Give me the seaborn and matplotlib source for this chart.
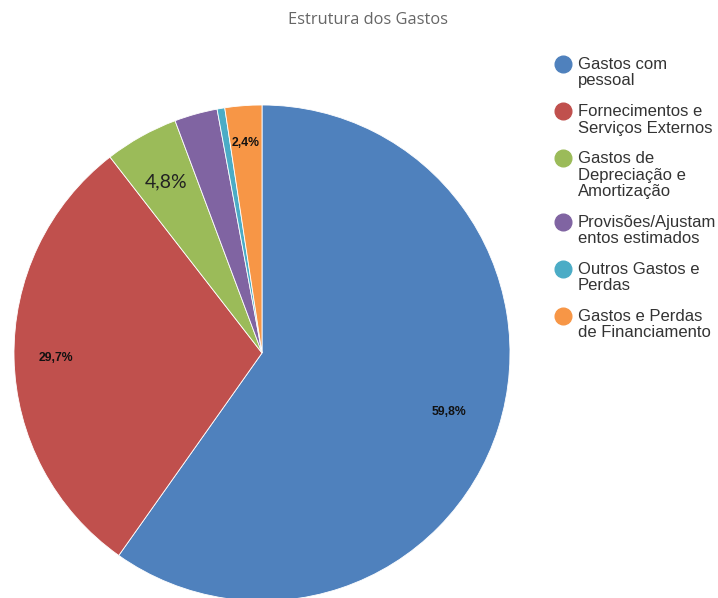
import numpy as np
import matplotlib
matplotlib.use("Agg")
import matplotlib.pyplot as plt
import seaborn as sns
from matplotlib.lines import Line2D

sns.set_theme(style="white")
plt.rcParams['font.family'] = ['Liberation Sans', 'DejaVu Sans']

# dados
categorias = ["Gastos com\npessoal",
              "Fornecimentos e\nServiços Externos",
              "Gastos de\nDepreciação e\nAmortização",
              "Provisões/Ajustam\nentos estimados",
              "Outros Gastos e\nPerdas",
              "Gastos e Perdas\nde Financiamento"]
valores = [59.8, 29.7, 4.8, 2.8, 0.5, 2.4]
rotulos = ["59,8%", "29,7%", "4,8%", "", "", "2,4%"]

cores = sns.color_palette(["#4F81BD", "#C0504D", "#9BBB59", "#8064A2", "#4BACC6", "#F79646"])

W, H = 718, 598
fig = plt.figure(figsize=(W / 100, H / 100), dpi=100)
ax = fig.add_axes([14 / W, -3 / H, 496 / W, 496 / H])

wedges, _ = ax.pie(valores, colors=cores, startangle=90, counterclock=False,
                   wedgeprops=dict(linewidth=0.6, edgecolor="white"))
ax.set_xlim(-1, 1)
ax.set_ylim(-1, 1)
ax.set_aspect("equal")

# rótulos de dados
dist = [0.79, 0.83, 0.79, 0.8, 0.8, 0.85]
for w, txt, d in zip(wedges, rotulos, dist):
    if not txt:
        continue
    ang = np.deg2rad((w.theta1 + w.theta2) / 2)
    if txt == "4,8%":
        ax.text(d * np.cos(ang), d * np.sin(ang), txt, ha="center", va="center",
                fontsize=14, family=["Lato", "DejaVu Sans"], color="#222222")
    else:
        ax.text(d * np.cos(ang), d * np.sin(ang), txt, ha="center", va="center",
                fontsize=8.8, fontweight="bold", family=["Liberation Sans", "DejaVu Sans"],
                color="#111111")

fig.text(368 / W, 1 - 20 / H, "Estrutura dos Gastos", ha="center", va="center",
         fontsize=11.8, color="#666666", family=["Open Sans", "DejaVu Sans"])

# legenda (marcador alinhado com a primeira linha do texto)
y = 64
for c, lab in zip(cores, categorias):
    fig.add_artist(Line2D([563 / W], [1 - y / H], marker="o", markersize=12,
                          color=c, linestyle="", transform=fig.transFigure))
    fig.text(578 / W, 1 - (y - 7) / H, lab, ha="left", va="top", fontsize=12,
             linespacing=1.12, color="#333333")
    y += lab.count("\n") * 16.5 + 30.6

fig.savefig("out.png", dpi=100)
